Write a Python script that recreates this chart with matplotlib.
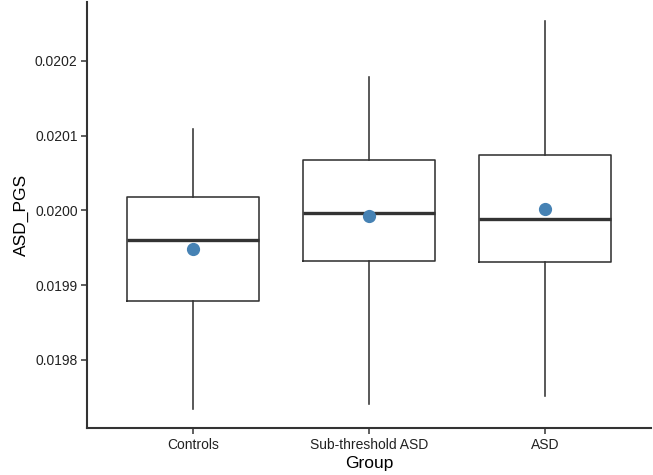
import matplotlib
matplotlib.use('Agg')
import matplotlib.pyplot as plt

plt.rcParams['font.family'] = ['Liberation Sans', 'DejaVu Sans']

groups = ['Controls', 'Sub-threshold ASD', 'ASD']
whisker_low = [0.0197349, 0.0197416, 0.0197520]
q1 = [0.0198789, 0.0199319, 0.0199314]
medians = [0.0199606, 0.0199965, 0.0199892]
q3 = [0.0200180, 0.0200682, 0.0200740]
whisker_high = [0.0201096, 0.0201782, 0.0202530]
means = [0.0199489, 0.0199929, 0.0200019]
yticks = [0.0198, 0.0199, 0.0200, 0.0201, 0.0202]

line_col = '#333333'
text_col = '#222222'

fig = plt.figure(figsize=(6.53, 4.75), dpi=100)
ax = fig.add_axes([0.1338, 0.0989, 0.8625, 0.8969])

stats = []
for i, g in enumerate(groups):
    stats.append(dict(label=g, whislo=whisker_low[i], q1=q1[i], med=medians[i],
                      q3=q3[i], whishi=whisker_high[i], fliers=[]))

positions = list(range(1, len(groups) + 1))
ax.bxp(stats, positions=positions, widths=0.75, showcaps=False, showfliers=False,
       boxprops=dict(color=line_col, linewidth=1.15),
       whiskerprops=dict(color=line_col, linewidth=1.15),
       medianprops=dict(color=line_col, linewidth=2.4, solid_capstyle='butt'))
ax.plot(positions, means, 'o', color='#4682B4', markersize=8.5, zorder=5)

lo = min(whisker_low)
hi = max(whisker_high)
pad = (hi - lo) * 0.05
ax.set_ylim(lo - pad, hi + pad)
ax.set_xlim(0.4, len(groups) + 0.6)

ax.set_yticks(yticks)
ax.set_yticklabels(['%.4f' % v for v in yticks])
ax.set_xticks(positions)
ax.set_xticklabels(groups)

for s in ['top', 'right']:
    ax.spines[s].set_visible(False)
for s in ['left', 'bottom']:
    ax.spines[s].set_color(line_col)
    ax.spines[s].set_linewidth(1.5)

ax.tick_params(axis='both', direction='out', length=4, width=1.1, color=line_col,
               labelsize=10, labelcolor=text_col, pad=3)

ax.set_xlabel('Group', fontsize=12.5, color='black', labelpad=3)
ax.set_ylabel('ASD_PGS', fontsize=12.5, color='black', labelpad=4)

fig.savefig('out.png', dpi=100)
